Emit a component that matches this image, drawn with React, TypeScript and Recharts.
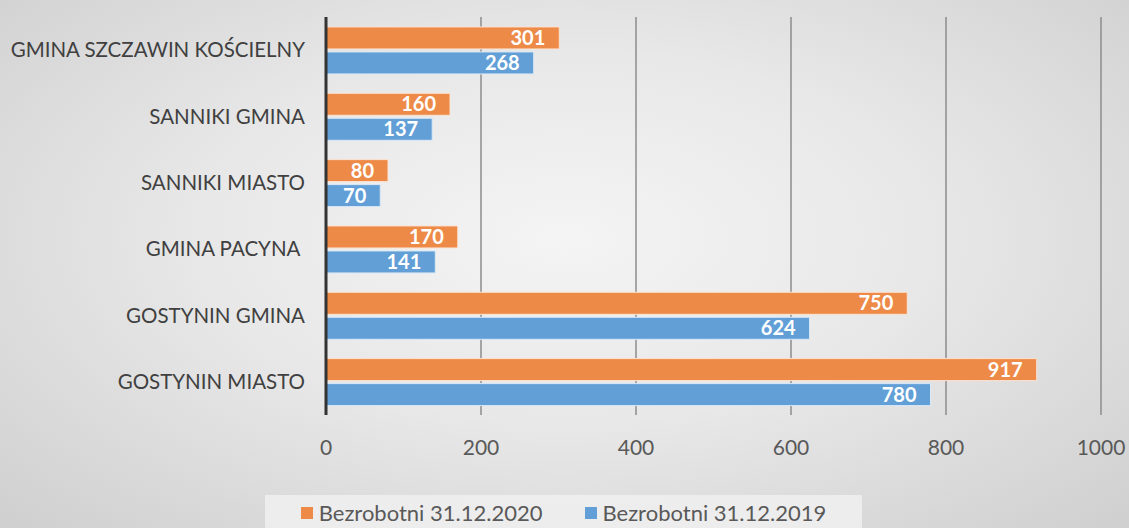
import React from 'react';
import { BarChart, Bar, XAxis, YAxis, CartesianGrid, Legend, LabelList } from 'recharts';

const categories = [
  'GMINA SZCZAWIN KOŚCIELNY',
  'SANNIKI GMINA',
  'SANNIKI MIASTO',
  'GMINA PACYNA\u00a0',
  'GOSTYNIN GMINA',
  'GOSTYNIN MIASTO',
];
const values2020 = [301, 160, 80, 170, 750, 917];
const values2019 = [268, 137, 70, 141, 624, 780];
const xTicks = [0, 200, 400, 600, 800, 1000];
const seriesNames = ['Bezrobotni 31.12.2020', 'Bezrobotni 31.12.2019'];
const colors = ['#ED8A47', '#629FD7'];

const data = categories.map((name, i) => ({ name, v2020: values2020[i], v2019: values2019[i] }));

const FONT = 'Lato, "Open Sans", sans-serif';

const LegendContent = () => (
  <div
    style={{
      background: 'rgba(240,240,240,0.85)',
      height: 33,
      display: 'flex',
      alignItems: 'flex-start',
      paddingTop: 7,
      boxSizing: 'border-box',
      justifyContent: 'center',
      fontFamily: FONT,
      fontSize: 22,
      lineHeight: '22px',
      color: '#595959',
    }}
  >
    {seriesNames.map((n, i) => (
      <div key={n} style={{ display: 'flex', alignItems: 'center', marginRight: i === 0 ? 42 : 0 }}>
        <span style={{ width: 12, height: 12, background: colors[i], display: 'inline-block', marginRight: 6 }} />
        <span>{n}</span>
      </div>
    ))}
  </div>
);

export default function App() {
  return (
    <div
      style={{
        position: 'absolute',
        left: 0,
        top: 0,
        width: 1129,
        height: 528,
        overflow: 'hidden',
        background: 'radial-gradient(ellipse at 50% 45%, #f4f4f4 0%, #e8e8e8 45%, #cfcfcf 100%)',
      }}
    >
      <BarChart
        width={1129}
        height={528}
        data={data}
        layout="vertical"
        margin={{ top: 17, right: 28, left: 0, bottom: 0 }}
        barCategoryGap="15%"
        barGap={3}
      >
        <CartesianGrid horizontal={false} vertical={true} stroke="#8c8c8c" strokeWidth={1.5} />
        <XAxis
          type="number"
          domain={[0, 1000]}
          ticks={xTicks}
          axisLine={false}
          tickLine={false}
          height={80}
          tickMargin={19}
          tick={{ fill: '#595959', fontSize: 21, fontFamily: FONT }}
        />
        <YAxis
          type="category"
          dataKey="name"
          width={326}
          axisLine={{ stroke: '#333333', strokeWidth: 3 }}
          tickLine={false}
          tickMargin={15}
          tick={{ fill: '#404040', fontSize: 20.5, fontFamily: FONT }}
        />
        <Legend verticalAlign="bottom" height={33} content={<LegendContent />} wrapperStyle={{ left: 265, width: 597, bottom: 0 }} />
        <Bar dataKey="v2020" name={seriesNames[0]} fill={colors[0]} stroke="#fbe3d2" strokeWidth={1} isAnimationActive={false}>
          <LabelList dataKey="v2020" position="insideRight" offset={14} fill="#ffffff" style={{ fontWeight: 700, fontSize: 20, fontFamily: FONT }} />
        </Bar>
        <Bar dataKey="v2019" name={seriesNames[1]} fill={colors[1]} stroke="#dbe9f6" strokeWidth={1} isAnimationActive={false}>
          <LabelList dataKey="v2019" position="insideRight" offset={14} fill="#ffffff" style={{ fontWeight: 700, fontSize: 20, fontFamily: FONT }} />
        </Bar>
      </BarChart>
    </div>
  );
}
